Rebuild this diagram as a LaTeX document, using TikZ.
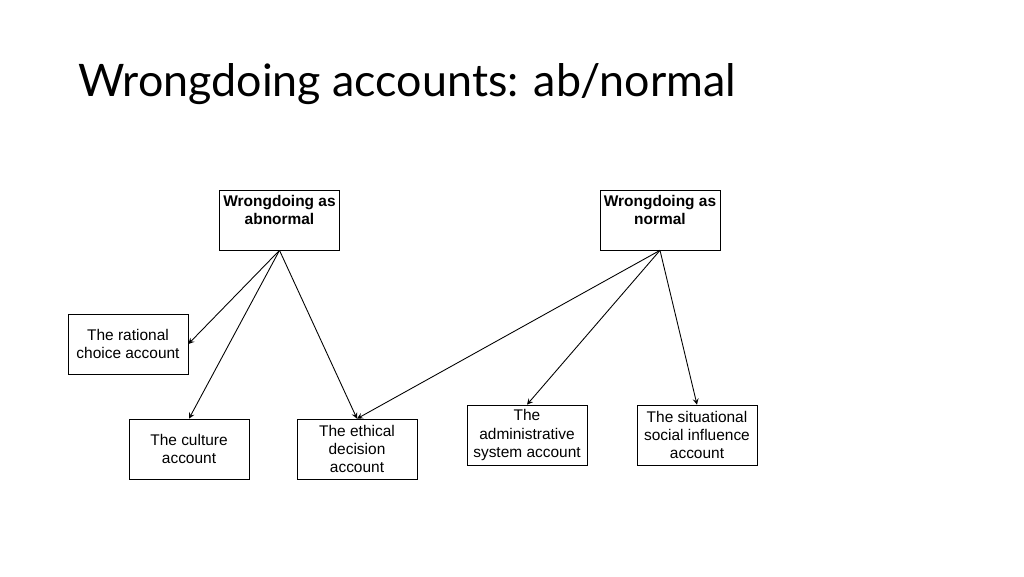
\documentclass[tikz,border=0pt]{standalone}
\usepackage{fontspec}
\setmainfont{Liberation Sans}
\newfontfamily\titlefont{Lato}
\begin{document}
\begin{tikzpicture}[x=0.02cm,y=-0.02cm,
  box/.style={draw,minimum width=2.4cm,minimum height=1.2cm,align=center,font=\fontsize{8.8}{10.5}\selectfont,inner sep=1pt},
  arr/.style={-stealth,line width=0.5pt}]
\useasboundingbox (0,0) rectangle (1024,576);
\node[anchor=west,inner sep=0pt,font=\titlefont\fontsize{25.5}{28}\selectfont] (title) at (78,84) {Wrongdoing accounts: ab/normal};
\node[box,font=\bfseries\fontsize{8.8}{10.5}\selectfont] (ab) at (279.5,220) {Wrongdoing as\\abnormal\\[-2pt]\strut};
\node[box,font=\bfseries\fontsize{8.8}{10.5}\selectfont] (no) at (660,220) {Wrongdoing as\\normal\\[-2pt]\strut};
\node[box] (ra) at (128,344) {The rational\\choice account};
\node[box] (cu) at (189,449) {The culture\\account};
\node[box] (et) at (357,449) {The ethical\\decision\\account};
\node[box] (ad) at (527,435) {The\\administrative\\system account};
\node[box] (si) at (697,435) {The situational\\social influence\\account};
\draw[arr] (ab.south) -- (ra.east);
\draw[arr] (ab.south) -- (cu.north);
\draw[arr] (ab.south) -- (et.north);
\draw[arr] (no.south) -- (et.north);
\draw[arr] (no.south) -- (ad.north);
\draw[arr] (no.south) -- (si.north);
\end{tikzpicture}
\end{document}
